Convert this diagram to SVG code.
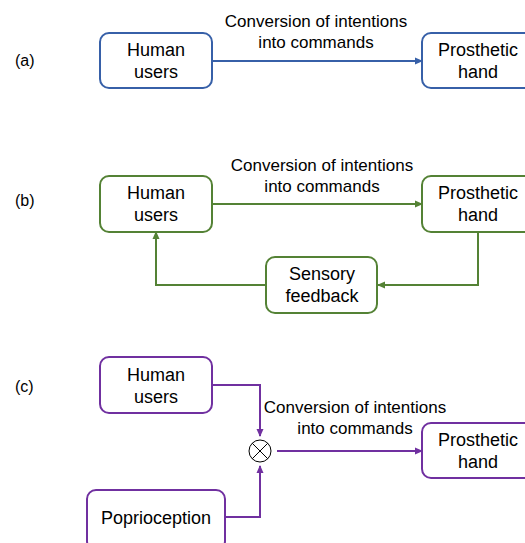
<svg xmlns="http://www.w3.org/2000/svg" width="525" height="543" viewBox="0 0 525 543">
<style>
text{font-family:"Liberation Sans",Arial,sans-serif;fill:#000}
.n{font-size:18px;text-anchor:middle}
.l{font-size:17px;text-anchor:middle}
.p{font-size:16px}
.box{fill:#fff;stroke-width:2}
.line{fill:none;stroke-width:2}
.blue{stroke:#3760A8}
.green{stroke:#548235}
.purple{stroke:#7030A0}
</style>
<defs>
<marker id="ab" markerWidth="8" markerHeight="8" refX="7" refY="4" orient="auto" markerUnits="userSpaceOnUse"><path d="M0,0.5 L8,4 L0,7.5 Z" fill="#3760A8"/></marker>
<marker id="ag" markerWidth="8" markerHeight="8" refX="7" refY="4" orient="auto" markerUnits="userSpaceOnUse"><path d="M0,0.5 L8,4 L0,7.5 Z" fill="#548235"/></marker>
<marker id="ap" markerWidth="8" markerHeight="8" refX="7" refY="4" orient="auto" markerUnits="userSpaceOnUse"><path d="M0,0.5 L8,4 L0,7.5 Z" fill="#7030A0"/></marker>
</defs>
<text class="p" x="15" y="66">(a)</text>
<text class="p" x="15" y="206">(b)</text>
<text class="p" x="15" y="392">(c)</text>
<g id="connectors">
<line class="line blue" x1="212" y1="61" x2="422" y2="61" marker-end="url(#ab)"/>
<line class="line green" x1="212" y1="204" x2="422" y2="204" marker-end="url(#ag)"/>
<polyline class="line green" points="478,232 478,285 378,285" marker-end="url(#ag)"/>
<polyline class="line green" points="266,285 156,285 156,232" marker-end="url(#ag)"/>
<polyline class="line purple" points="212,385 260,385 260,436" marker-end="url(#ap)"/>
<polyline class="line purple" points="225,517 260,517 260,466" marker-end="url(#ap)"/>
<line class="line purple" x1="277" y1="451" x2="422" y2="451" marker-end="url(#ap)"/>
<text class="l" x="316" y="27">Conversion of intentions</text>
<text class="l" x="316" y="48">into commands</text>
<text class="l" x="322" y="171">Conversion of intentions</text>
<text class="l" x="322" y="192">into commands</text>
<text class="l" x="355" y="413">Conversion of intentions</text>
<text class="l" x="355" y="434">into commands</text>
</g>
<g id="a-human"><rect class="box blue" x="100" y="33" width="112" height="55" rx="9"/><text class="n" x="156" y="56">Human</text><text class="n" x="156" y="78">users</text></g>
<g id="a-hand"><rect class="box blue" x="422" y="33" width="112" height="55" rx="9"/><text class="n" x="478" y="56">Prosthetic</text><text class="n" x="478" y="78">hand</text></g>
<g id="b-human"><rect class="box green" x="100" y="176" width="112" height="56" rx="9"/><text class="n" x="156" y="199">Human</text><text class="n" x="156" y="221">users</text></g>
<g id="b-hand"><rect class="box green" x="422" y="176" width="112" height="56" rx="9"/><text class="n" x="478" y="199">Prosthetic</text><text class="n" x="478" y="221">hand</text></g>
<g id="b-feedback"><rect class="box green" x="266" y="257" width="111" height="56" rx="9"/><text class="n" x="322" y="280">Sensory</text><text class="n" x="322" y="302">feedback</text></g>
<g id="c-human"><rect class="box purple" x="100" y="357" width="112" height="56" rx="9"/><text class="n" x="156" y="381">Human</text><text class="n" x="156" y="403">users</text></g>
<g id="c-mult"><circle cx="260" cy="451" r="11" fill="#fff" stroke="#000" stroke-width="1"/><path d="M252.2,443.2 L267.8,458.8 M267.8,443.2 L252.2,458.8" stroke="#000" stroke-width="1"/></g>
<g id="c-hand"><rect class="box purple" x="422" y="423" width="112" height="55" rx="9"/><text class="n" x="478" y="446">Prosthetic</text><text class="n" x="478" y="468">hand</text></g>
<g id="c-proprio"><rect class="box purple" x="87" y="490" width="138" height="60" rx="9"/><text class="n" x="156" y="524">Poprioception</text></g>
</svg>
